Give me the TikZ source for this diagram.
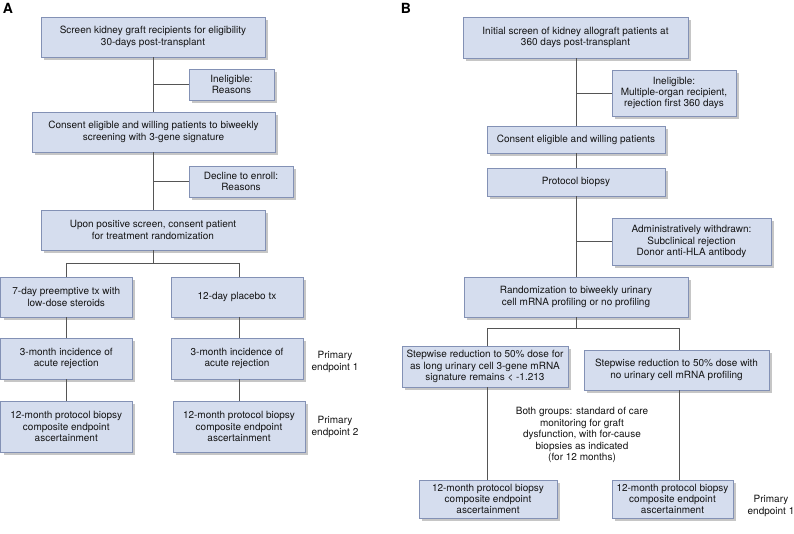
\documentclass[tikz,border=0pt]{standalone}
\usepackage{fontspec}
\setmainfont{TeX Gyre Heros}
\usetikzlibrary{shadows}
\definecolor{boxfill}{HTML}{D5DDEE}
\definecolor{boxline}{HTML}{8391B5}
\definecolor{shad}{HTML}{C6C6C6}
\definecolor{connc}{HTML}{555555}
\definecolor{txt}{HTML}{141414}
\newcommand\bx[6]{\node[box,minimum width={#4-#2},minimum height={#5-#3}] (#1) at ({(#2+#4)/2},{(#3+#5)/2}) {#6};}
\begin{document}
\begin{tikzpicture}[x=1pt,y=-1pt,
  box/.style={draw=boxline, fill=boxfill, line width=0.8pt, inner sep=0pt, align=center, text=txt,
    font=\fontsize{10}{11.4}\selectfont,
    drop shadow={shadow xshift=3pt, shadow yshift=-3pt, fill=shad, opacity=1}},
  conn/.style={draw=connc, line width=0.9pt},
  lbl/.style={align=center, text=txt, font=\fontsize{10}{11.4}\selectfont},
  panel/.style={text=black, font=\fontsize{14}{14}\bfseries\selectfont, inner sep=0pt}]
\fill[white] (0,0) rectangle (794,534);
\useasboundingbox (0,0) rectangle (794,534);

% Panel A
\node[panel] (labA) at (8,8) {A};
\bx{a1}{41}{17}{265}{57}{Screen kidney graft recipients for eligibility\\30-days post-transplant}
\bx{ain}{189}{69}{274}{100}{Ineligible:\\Reasons}
\bx{a2}{32}{112}{275}{152}{Consent eligible and willing patients to biweekly\\screening with 3-gene signature}
\bx{adec}{189}{166}{293}{197}{Decline to enroll:\\Reasons}
\bx{a3}{41}{210}{265}{250}{Upon positive screen, consent patient\\for treatment randomization}
\bx{a4l}{0.5}{277}{132}{317}{7-day preemptive tx with\\low-dose steroids}
\bx{a4r}{171}{277}{303}{317}{12-day placebo tx}
\bx{a5l}{0.5}{338}{132}{379}{3-month incidence of\\acute rejection}
\bx{a5r}{171}{338}{303}{379}{3-month incidence of\\acute rejection}
\bx{a6l}{0.5}{401}{132}{452}{12-month protocol biopsy\\composite endpoint\\ascertainment}
\bx{a6r}{173}{401}{305}{452}{12-month protocol biopsy\\composite endpoint\\ascertainment}
\node[lbl] (ape1) at (335,362) {Primary\\endpoint 1};
\node[lbl] (ape2) at (335,427) {Primary\\endpoint 2};

\draw[conn] (a1.south) -- (a1.south |- a2.north);
\draw[conn] (ain.west) -- (ain.west -| a1.south);
\draw[conn] (a2.south -| a1.south) -- (a3.north);
\draw[conn] (adec.west) -- (adec.west -| a1.south);
\coordinate (asp) at (153,263);
\coordinate (asl) at (66,263);
\coordinate (asr) at (239,263);
\draw[conn] (a3.south) -- (asp);
\draw[conn] (asl) -- (asr);
\draw[conn] (asl) -- (asl |- a4l.north);
\draw[conn] (asr) -- (asr |- a4r.north);
\draw[conn] (a4l.south -| asl) -- (a5l.north -| asl);
\draw[conn] (a5l.south -| asl) -- (a6l.north -| asl);
\draw[conn] (a4r.south -| asr) -- (a5r.north -| asr);
\draw[conn] (a5r.south -| asr) -- (a6r.north -| asr);

% Panel B
\node[panel] (labB) at (406,8) {B};
\bx{b1}{463}{17}{688}{58}{Initial screen of kidney allograft patients at\\360 days post-transplant}
\bx{bin}{612}{70}{736}{116}{Ineligible:\\Multiple-organ recipient,\\rejection first 360 days}
\bx{b2}{487}{126}{665}{153}{Consent eligible and willing patients}
\bx{b3}{487}{168}{665}{196}{Protocol biopsy}
\bx{bw}{612}{218}{771}{265}{Administratively withdrawn:\\Subclinical rejection\\Donor anti-HLA antibody}
\bx{b4}{464}{277}{688}{317}{Randomization to biweekly urinary\\cell mRNA profiling or no profiling}
\bx{b5l}{402}{346}{568}{387}{Stepwise reduction to 50\% dose for\\as long urinary cell 3-gene mRNA\\signature remains < -1.213}
\bx{b5r}{584}{350}{769}{390}{Stepwise reduction to 50\% dose with\\no urinary cell mRNA profiling}
\bx{b6l}{419}{480}{557}{518}{12-month protocol biopsy\\composite endpoint\\ascertainment}
\bx{b6r}{612}{480}{733}{518}{12-month protocol biopsy\\composite endpoint\\ascertainment}
\node[lbl] (bmid) at (582,435) {Both groups: standard of care\\monitoring for graft\\dysfunction, with for-cause\\biopsies as indicated\\(for 12 months)};
\node[lbl] (bpe) at (771,506) {Primary\\endpoint 1};

\coordinate (bmx) at (576,0);
\draw[conn] (b1.south -| bmx) -- (b2.north -| bmx);
\draw[conn] (bin.west) -- (bin.west -| bmx);
\draw[conn] (b2.south -| bmx) -- (b3.north -| bmx);
\draw[conn] (b3.south -| bmx) -- (b4.north -| bmx);
\draw[conn] (bw.west) -- (bw.west -| bmx);
\coordinate (bsp) at (576,328);
\coordinate (bsl) at (487,328);
\coordinate (bsr) at (679,328);
\draw[conn] (b4.south -| bmx) -- (bsp);
\draw[conn] (bsl) -- (bsr);
\draw[conn] (bsl) -- (bsl |- b5l.north);
\draw[conn] (bsr) -- (bsr |- b5r.north);
\draw[conn] (b5l.south -| bsl) -- (b6l.north -| bsl);
\draw[conn] (b5r.south -| bsr) -- (b6r.north -| bsr);
\end{tikzpicture}
\end{document}
